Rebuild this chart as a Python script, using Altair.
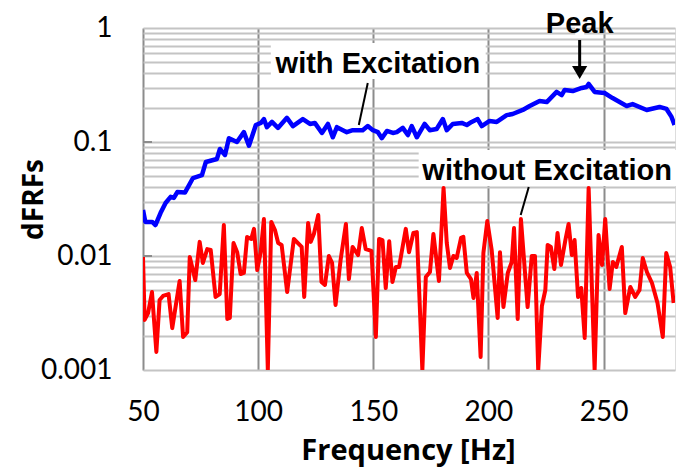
import altair as alt
import pandas as pd

# ---- data ----
freq_with = [50, 51, 54, 55.4, 57.6, 59.8, 62, 63.4, 64.9, 68.2, 71.7, 75.6, 77.3, 82.1, 83.4, 85.6,
             87.3, 90.8, 93.8, 96.0, 99.0, 101.2, 102.5, 103.8, 106, 108.6, 112.5, 115.1, 119.4,
             122.5, 124.6, 127.7, 130.3, 132.4, 134.2, 138.5, 141.1, 145.4, 147.6, 149.8, 152,
             153.7, 155.9, 158.5, 160.2, 162.8, 165, 166.7, 168.9, 172.3, 174.5, 177.5, 180.2,
             181.9, 184.5, 188.4, 190.6, 192.7, 195.3, 197.1, 200.5, 203.6, 207.9, 210.5, 214.9,
             217.9, 222.2, 225.3, 229.6, 231.8, 233.1, 236.6, 240.5, 242.6, 243.5, 246.1, 250.4,
             253.9, 260, 262.6, 268.7, 274.3, 277.3, 279.5, 280.8]
val_with = [0.0253, 0.0199, 0.0199, 0.0187, 0.0238, 0.0292, 0.033, 0.0323, 0.0364, 0.036, 0.0483,
            0.0513, 0.0668, 0.071, 0.0868, 0.077, 0.108, 0.1, 0.122, 0.0927, 0.141, 0.147, 0.159,
            0.135, 0.15, 0.133, 0.163, 0.138, 0.159, 0.144, 0.147, 0.12, 0.144, 0.11, 0.135, 0.122,
            0.127, 0.127, 0.138, 0.127, 0.122, 0.108, 0.125, 0.12, 0.122, 0.133, 0.115, 0.138, 0.11,
            0.144, 0.127, 0.13, 0.159, 0.127, 0.144, 0.147, 0.141, 0.15, 0.159, 0.138, 0.153, 0.15,
            0.172, 0.176, 0.191, 0.207, 0.229, 0.224, 0.275, 0.258, 0.286, 0.28, 0.298, 0.304,
            0.323, 0.275, 0.269, 0.243, 0.207, 0.215, 0.191, 0.203, 0.195, 0.166, 0.141]

freq_without = [50, 50.7, 52.2, 53.9, 55.8, 57.2, 58.7, 61.1, 62.7, 65.9, 67.4, 69.2, 70.3, 72.7,
                74.6, 76, 77.9, 79.4, 81.5, 83.3, 85.1, 86.6, 87.7, 89.3, 90.9, 92.4, 93.8, 95.2,
                97, 98.2, 99.6, 101.1, 102.5, 104.2, 105.7, 107.3, 108.7, 110.2, 112.6, 115.5,
                118.9, 120, 121.7, 122.8, 124.2, 126.1, 127.5, 129, 130.7, 132.1, 133.6, 135.8,
                138.1, 139.4, 141, 143.4, 145, 146.7, 149.2, 151.1, 152.5, 154, 155.4, 156.9,
                158.3, 159.8, 161.2, 164.1, 165.5, 167.4, 168.9, 171.3, 172.8, 174.6, 176.1,
                178.5, 180.5, 181.9, 183.3, 184.8, 186.2, 188.1, 189.1, 190.6, 192.4, 193.5,
                194.9, 196.6, 197.8, 199.5, 201.4, 204, 205, 206.5, 208.4, 210.1, 211.1, 212.7,
                214.1, 217, 218.8, 220.2, 221.6, 223.2, 224.7, 225.7, 227.1, 228.6, 230, 231.5,
                233.4, 234.8, 236.2, 237.4, 238.9, 240.3, 241.8, 243.5, 246.1, 247.8, 249.3,
                250.7, 252.6, 254, 255.5, 257.9, 259.4, 261.6, 263.7, 265.6, 267, 268.8, 271,
                273.4, 275.7, 277.2, 278.9, 280.4]
val_without = [0.0098, 0.00275, 0.00316, 0.00483, 0.00144, 0.00411, 0.00446, 0.00464, 0.00233,
               0.00604, 0.00195, 0.00215, 0.0098, 0.00615, 0.0133, 0.00869, 0.0115, 0.0113,
               0.00437, 0.00464, 0.0187, 0.0028, 0.00286, 0.013, 0.0108, 0.00695, 0.0071, 0.0147,
               0.0141, 0.0173, 0.00754, 0.0108, 0.0211, 0.001, 0.0199, 0.0169, 0.013, 0.0125,
               0.00483, 0.0141, 0.012, 0.00437, 0.0195, 0.0133, 0.0156, 0.0229, 0.00592, 0.00557,
               0.01, 0.00869, 0.00372, 0.00923, 0.0191, 0.00628, 0.012, 0.0102, 0.0176, 0.0115,
               0.0111, 0.00195, 0.0141, 0.0138, 0.00524, 0.0135, 0.00592, 0.00801, 0.00801,
               0.0173, 0.0108, 0.0159, 0.0162, 0.001, 0.00654, 0.00724, 0.0156, 0.00604, 0.0395,
               0.013, 0.00785, 0.01, 0.0096, 0.0144, 0.0147, 0.0071, 0.00628, 0.00428, 0.0071,
               0.0013, 0.0106, 0.0203, 0.0113, 0.00286, 0.0108, 0.00357, 0.0071, 0.00886, 0.0176,
               0.0028, 0.0211, 0.00357, 0.01, 0.01, 0.001, 0.00364, 0.00503, 0.0125, 0.012,
               0.00769, 0.0159, 0.00834, 0.0138, 0.0191, 0.0102, 0.0138, 0.00437, 0.00524,
               0.00191, 0.0395, 0.001, 0.0153, 0.00834, 0.0211, 0.00514, 0.00886, 0.00801, 0.012,
               0.00316, 0.00535, 0.00437, 0.00503, 0.0096, 0.00724, 0.0058, 0.00387, 0.00195,
               0.0106, 0.00801, 0.00387]

x_ticks = [50, 100, 150, 200, 250]
y_grid = [0.001, 0.002, 0.003, 0.004, 0.005, 0.006, 0.007, 0.008, 0.009,
          0.01, 0.02, 0.03, 0.04, 0.05, 0.06, 0.07, 0.08, 0.09,
          0.1, 0.2, 0.3, 0.4, 0.5, 0.6, 0.7, 0.8, 0.9, 1]

df_with = pd.DataFrame({"freq": freq_with, "value": val_with})
df_without = pd.DataFrame({"freq": freq_without, "value": val_without})
df_dec = pd.DataFrame({"value": [0.01, 0.1]})

XS = alt.Scale(domain=[50, 281], nice=False, zero=False)
YS = alt.Scale(type="log", domain=[0.001, 1], nice=False)

LABEL_FONT = "Lato"
TITLE_FONT = "Open Sans"
ANN_FONT = "Liberation Sans"

x_axis = alt.Axis(values=x_ticks, grid=True, gridColor="#8C8C8C", gridWidth=2,
                  domain=False, ticks=False, tickSize=0, labelFont=LABEL_FONT,
                  labelFontSize=28, labelColor="black", labelPadding=28, labelFlush=False,
                  labelBaseline="top", title="Frequency [Hz]", titleFont=TITLE_FONT,
                  titleFontSize=29, titleFontWeight="bold", titleColor="black",
                  titleX=265, titleY=89, titleBaseline="alphabetic", titleAlign="center")
y_axis = alt.Axis(values=y_grid, grid=True, gridColor="#C4C4C4", gridWidth=2,
                  domain=False, ticks=False, tickSize=0, labelFont=LABEL_FONT,
                  labelFontSize=28, labelColor="black", labelPadding=31, labelFlush=False,
                  labelOverlap=False, labelBaseline="middle",
                  labelExpr="datum.value == 1 ? '1' : datum.value == 0.1 ? '0.1' : datum.value == 0.01 ? '0.01' : datum.value == 0.001 ? '0.001' : ''",
                  title="dFRFs", titleFont=TITLE_FONT, titleFontSize=28,
                  titleFontWeight="bold", titleColor="black", titleAngle=270,
                  titleX=-101, titleY=171, titleAlign="center", titleBaseline="alphabetic")


def X(field):
    return alt.X(field, scale=XS, axis=x_axis)


def Y(field):
    return alt.Y(field, scale=YS, axis=y_axis)


red = alt.Chart(df_without).mark_line(color="#FF0000", strokeWidth=4, strokeJoin="round",
                                      clip=True).encode(x=X("freq:Q"), y=Y("value:Q"))

blue = alt.Chart(df_with).mark_line(color="#0000FF", strokeWidth=4.5, strokeJoin="round",
                                    clip=True).encode(x=X("freq:Q"), y=Y("value:Q"))

inner_ticks = alt.Chart(df_dec).mark_rule(color="#8C8C8C", strokeWidth=2).encode(
    x=alt.value(0), x2=alt.value(9), y=Y("value:Q"))

# annotation boxes / texts / pointers (in data coordinates)
boxes = alt.Chart(pd.DataFrame({
    "f1": [105.5, 237.7, 169.7],
    "f2": [198.8, 241.6, 281.7],
    "v1": [0.357, 0.817, 0.0411],
    "v2": [0.738, 1.6, 0.0851],
})).mark_rect(color="white").encode(
    x=X("f1:Q"), x2="f2:Q", y=Y("v1:Q"), y2="v2:Q")

texts = alt.Chart(pd.DataFrame({
    "freq": [152.0, 239.6, 225.5],
    "value": [0.403, 0.904, 0.0464],
    "label": ["with Excitation", "Peak", "without Excitation"],
})).mark_text(font=ANN_FONT, fontSize=29, fontWeight="bold", color="black",
              align="center", baseline="alphabetic").encode(
    x=X("freq:Q"), y=Y("value:Q"), text="label:N")

leaders = alt.Chart(pd.DataFrame({
    "f1": [147.6, 217.5, 239.6],
    "f2": [143.7, 214.0, 239.6],
    "v1": [0.329, 0.0403, 0.785],
    "v2": [0.141, 0.0229, 0.45],
    "w": ["thin", "thin", "thick"],
})).mark_rule(color="black").encode(
    x=X("f1:Q"), x2="f2:Q", y=Y("v1:Q"), y2="v2:Q",
    strokeWidth=alt.StrokeWidth("w:N", scale=alt.Scale(domain=["thin", "thick"], range=[2, 3]),
                                legend=None),
)

arrow_head = alt.Chart(pd.DataFrame({"freq": [239.6], "value": [0.407]})).mark_point(
    shape="triangle-down", size=230, filled=True, color="black", opacity=1).encode(
    x=X("freq:Q"), y=Y("value:Q"))

chart = alt.layer(red, inner_ticks, blue, boxes, texts, leaders, arrow_head).properties(
    width=532, height=342,
    autosize=alt.AutoSizeParams(type="none"),
    padding={"left": 143, "top": 28, "right": 10, "bottom": 97},
).configure_view(stroke="#8C8C8C", strokeWidth=2).configure(background="white")

chart.save("out.html", embed_options={"renderer": "svg", "actions": False})
